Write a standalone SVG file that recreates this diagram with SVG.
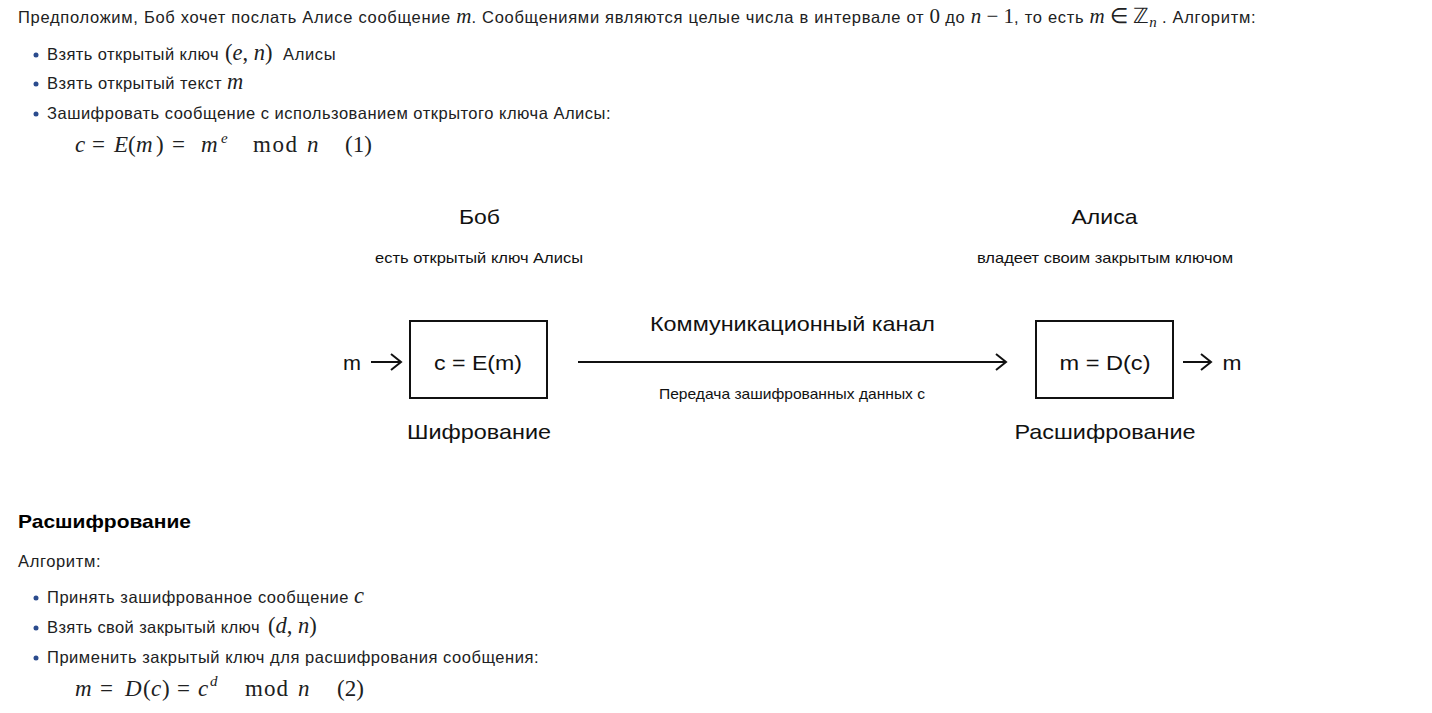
<svg xmlns="http://www.w3.org/2000/svg" width="1432" height="713" viewBox="0 0 1432 713">
<defs>
<style>
.t{font-family:"Liberation Sans",Arial,sans-serif;font-size:16.5px;letter-spacing:0.5px;fill:#202122}
.m{font-family:"Liberation Serif","Times New Roman",serif;font-size:21px;letter-spacing:0;fill:#202122}
.mb{font-size:22.5px}
.f{font-family:"Liberation Serif","Times New Roman",serif;font-size:23px;fill:#202122}
.sup{font-size:15px}
.sub{font-size:15px}
.i{font-style:italic}
.b{fill:#2a4b8d}
.d{font-family:"Liberation Sans",Arial,sans-serif;fill:#111}
.big{font-size:21px}
.sm{font-size:15px}
.h{font-family:"Liberation Sans",Arial,sans-serif;font-size:19px;font-weight:bold;fill:#000}
.ln{stroke:#111;stroke-width:2;fill:none}
.box{stroke:#111;stroke-width:2;fill:#fff}
</style>
<marker id="ah" markerWidth="14" markerHeight="18" refX="12" refY="9" orient="auto" markerUnits="userSpaceOnUse">
<path d="M2,1 L12,9 L2,17" fill="none" stroke="#111" stroke-width="2"/>
</marker>
</defs>
<rect width="1432" height="713" fill="#fff"/>

<g id="text-top">
<text class="t" x="18" y="23" style="letter-spacing:0.7px">Предположим, Боб хочет послать Алисе сообщение <tspan class="m i">m</tspan>. Сообщениями являются целые числа в интервале от <tspan class="m">0</tspan> до <tspan class="m i">n</tspan><tspan class="m"> − 1</tspan>, то есть <tspan class="m i">m</tspan><tspan class="m"> ∈ ℤ</tspan><tspan class="m i sub" dy="4">n</tspan><tspan dy="-4"> . Алгоритм:</tspan></text>
<circle class="b" cx="36" cy="55" r="2.5"/>
<text class="t" x="47" y="60"><tspan textLength="172">Взять открытый ключ</tspan><tspan class="m mb" x="225">(</tspan><tspan class="m mb i">e</tspan><tspan class="m mb">, </tspan><tspan class="m mb i">n</tspan><tspan class="m mb">)</tspan><tspan x="283" textLength="53">Алисы</tspan></text>
<circle class="b" cx="36" cy="84" r="2.5"/>
<text class="t" x="47" y="89"><tspan textLength="175">Взять открытый текст</tspan><tspan class="m mb i" x="227">m</tspan></text>
<circle class="b" cx="36" cy="114" r="2.5"/>
<text class="t" x="47" y="119" textLength="564">Зашифровать сообщение с использованием открытого ключа Алисы:</text>
<g id="formula-1">
<text class="f i" x="75" y="152">c</text>
<text class="f" x="92" y="152">=</text>
<text class="f i" x="114" y="152">E</text>
<text class="f" x="128" y="152">(</text>
<text class="f i" x="136" y="152">m</text>
<text class="f" x="156" y="152">)</text>
<text class="f" x="172" y="152">=</text>
<text class="f i" x="201" y="152">m</text>
<text class="f i sup" x="221" y="143">e</text>
<text class="f" x="253" y="152" textLength="44">mod</text>
<text class="f i" x="307" y="152">n</text>
<text class="f" x="345" y="152">(1)</text>
</g>
</g>

<g id="bob-label">
<text class="d big" x="479.5" y="224" text-anchor="middle" textLength="41" lengthAdjust="spacingAndGlyphs">Боб</text>
<text class="d sm" x="479" y="263" text-anchor="middle" textLength="208" lengthAdjust="spacingAndGlyphs">есть открытый ключ Алисы</text>
</g>
<g id="alice-label">
<text class="d big" x="1104.5" y="224" text-anchor="middle" textLength="66" lengthAdjust="spacingAndGlyphs">Алиса</text>
<text class="d sm" x="1105" y="263" text-anchor="middle" textLength="256" lengthAdjust="spacingAndGlyphs">владеет своим закрытым ключом</text>
</g>

<g id="input-m">
<text class="d big" x="352" y="370" text-anchor="middle" textLength="18" lengthAdjust="spacingAndGlyphs">m</text>
</g>
<g id="encrypt">
<rect class="box" x="410" y="321" width="137" height="77"/>
<text class="d big" x="478" y="370" text-anchor="middle" textLength="88" lengthAdjust="spacingAndGlyphs">c = E(m)</text>
<text class="d big" x="479" y="439" text-anchor="middle" textLength="144" lengthAdjust="spacingAndGlyphs">Шифрование</text>
</g>
<g id="channel-label">
<text class="d big" x="792.5" y="331" text-anchor="middle" textLength="285" lengthAdjust="spacingAndGlyphs">Коммуникационный канал</text>
<text class="d sm" x="792" y="399" text-anchor="middle" textLength="266" lengthAdjust="spacingAndGlyphs">Передача зашифрованных данных с</text>
</g>
<g id="decrypt">
<rect class="box" x="1036" y="321" width="137" height="77"/>
<text class="d big" x="1105" y="370" text-anchor="middle" textLength="91" lengthAdjust="spacingAndGlyphs">m = D(c)</text>
<text class="d big" x="1105" y="439" text-anchor="middle" textLength="181" lengthAdjust="spacingAndGlyphs">Расшифрование</text>
</g>
<g id="output-m">
<text class="d big" x="1232" y="370" text-anchor="middle" textLength="19" lengthAdjust="spacingAndGlyphs">m</text>
</g>

<g id="connectors">
<line class="ln" x1="371" y1="362" x2="401" y2="362" marker-end="url(#ah)"/>
<line class="ln" x1="578" y1="362" x2="1006" y2="362" marker-end="url(#ah)"/>
<line class="ln" x1="1183" y1="362" x2="1211" y2="362" marker-end="url(#ah)"/>
</g>

<g id="text-bottom">
<text class="h" x="18" y="528" textLength="173" lengthAdjust="spacingAndGlyphs">Расшифрование</text>
<text class="t" x="18" y="567" textLength="83">Алгоритм:</text>
<circle class="b" cx="36" cy="598" r="2.5"/>
<text class="t" x="47" y="603"><tspan textLength="302">Принять зашифрованное сообщение</tspan><tspan class="m mb i" x="354">c</tspan></text>
<circle class="b" cx="36" cy="628" r="2.5"/>
<text class="t" x="47" y="633"><tspan textLength="213">Взять свой закрытый ключ</tspan><tspan class="m mb" x="268">(</tspan><tspan class="m mb i">d</tspan><tspan class="m mb">, </tspan><tspan class="m mb i">n</tspan><tspan class="m mb">)</tspan></text>
<circle class="b" cx="36" cy="658" r="2.5"/>
<text class="t" x="47" y="663" textLength="492">Применить закрытый ключ для расшифрования сообщения:</text>
<g id="formula-2">
<text class="f i" x="75" y="696">m</text>
<text class="f" x="100" y="696">=</text>
<text class="f i" x="125" y="696">D</text>
<text class="f" x="143" y="696">(</text>
<text class="f i" x="151" y="696">c</text>
<text class="f" x="162" y="696">)</text>
<text class="f" x="177" y="696">=</text>
<text class="f i" x="198" y="696">c</text>
<text class="f i sup" x="210" y="686">d</text>
<text class="f" x="245" y="696" textLength="43">mod</text>
<text class="f i" x="298" y="696">n</text>
<text class="f" x="337" y="696">(2)</text>
</g>
</g>
</svg>
